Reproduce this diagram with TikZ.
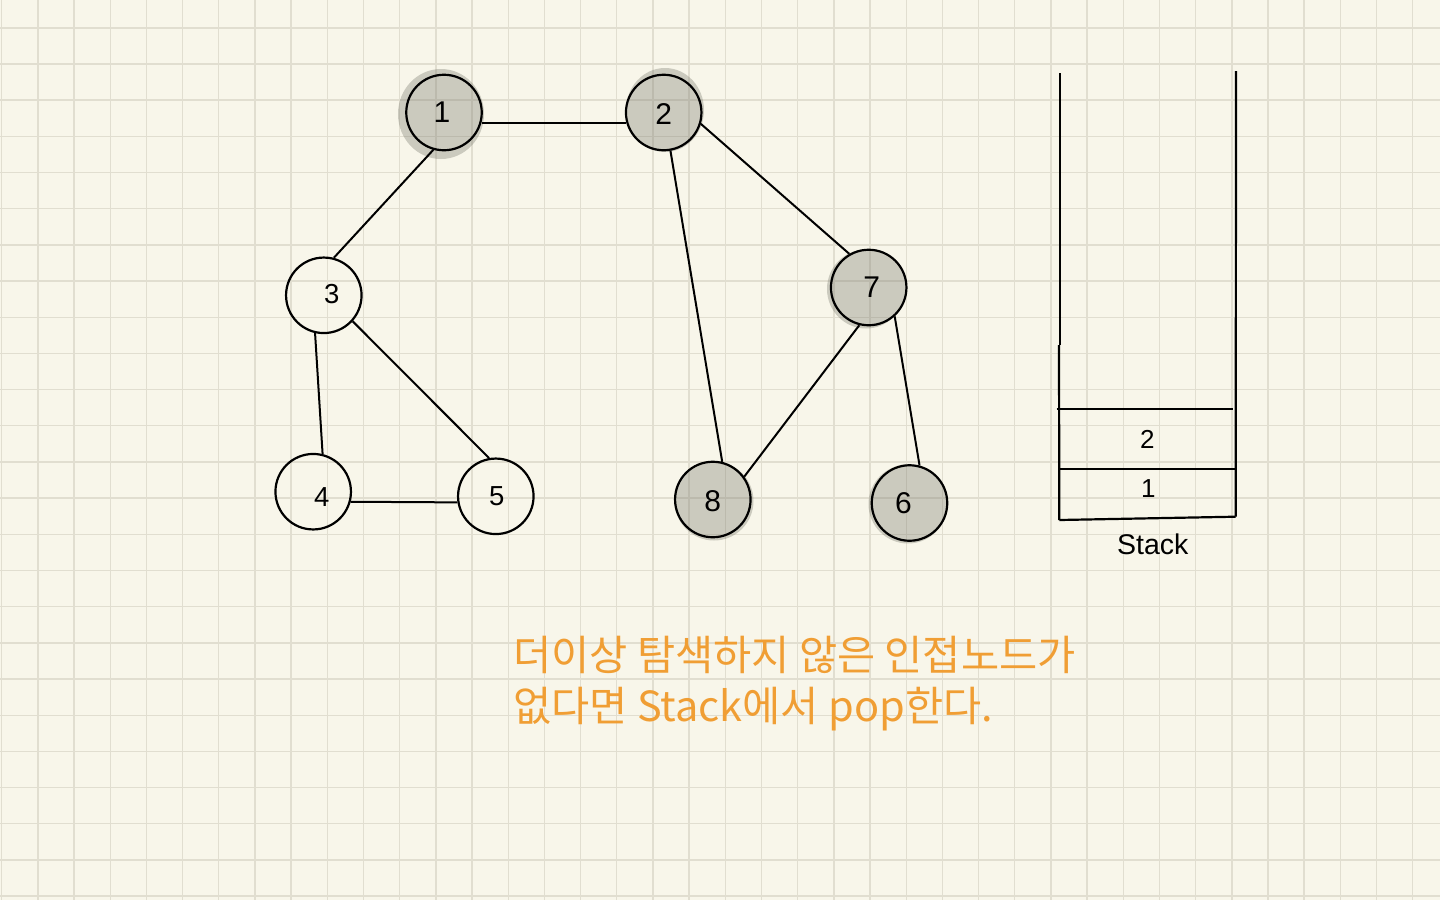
\documentclass[tikz,border=0pt]{standalone}
\usepackage{fontspec}
\setmainfont{Liberation Sans}
\newfontfamily\kr{Noto Sans CJK KR}
\definecolor{bgc}{RGB}{248,246,234}
\definecolor{gridc}{RGB}{225,222,208}
\definecolor{shadec}{RGB}{120,120,108}
\definecolor{orangec}{RGB}{240,158,52}
\pgfdeclarelayer{bglayer}
\pgfdeclarelayer{shadelayer}
\pgfsetlayers{bglayer,shadelayer,main}
\begin{document}
\begin{tikzpicture}[x=1pt,y=-1pt,
  gnode/.style={circle,draw,line width=2.2pt,minimum size=75.5pt,inner sep=0pt},
  edge/.style={line width=2pt},
  stk/.style={line width=2.2pt},
  shadefill/.style={fill=shadec,fill opacity=0.35},
  gridline/.style={gridc,line width=1.4pt},
  big/.style={font=\fontsize{30}{33}\selectfont},
  small/.style={font=\fontsize{27.5}{30}\selectfont},
  every label/.style={inner sep=0pt,big},
  stacktxt/.style={inner sep=0pt,font=\fontsize{26}{30}\selectfont},
  krtext/.style={anchor=base west,inner sep=0pt,text=orangec,font=\kr\fontsize{41.5}{48}\selectfont}]
\useasboundingbox (0,0) rectangle (1440,900);
\begin{pgfonlayer}{bglayer}
  \fill[bgc] (0,0) rectangle (1440,900);
  \foreach \i in {0,...,39} \draw[gridline] ({1.7+36.18*\i},0) -- ({1.7+36.18*\i},900);
  \foreach \j in {0,...,24} \draw[gridline] (0,{27.8+36.18*\j}) -- (1440,{27.8+36.18*\j});
\end{pgfonlayer}

% graph nodes
\node[gnode,label={[xshift=-2pt]center:1}] (n1) at (444,112.5) {};
\node[gnode,label={[yshift=-2pt]center:2}] (n2) at (663.7,112.5) {};
\node[gnode,label={[xshift=8pt,yshift=1pt,small]center:3}] (n3) at (323.8,295.3) {};
\node[gnode,label={[xshift=8.5pt,yshift=-5pt,small]center:4}] (n4) at (313.2,491.7) {};
\node[gnode,label={[xshift=1pt,small]center:5}] (n5) at (495.8,496.3) {};
\node[gnode,label={[xshift=3pt]center:7}] (n7) at (868.7,287.5) {};
\node[gnode,label={[yshift=-2pt]center:8}] (n8) at (712.8,499.5) {};
\node[gnode,label={[xshift=-6pt]center:6}] (n6) at (909.5,503) {};

% shading of visited nodes
\begin{pgfonlayer}{shadelayer}
  \fill[shadefill] (441,114) ellipse [x radius=43pt, y radius=45pt] (n1.center) circle [radius=37.75pt];
  \fill[shadefill] (665,110) ellipse [x radius=39pt, y radius=42pt] (n2.center) circle [radius=37.75pt];
  \fill[shadefill] (866,289) ellipse [x radius=39pt, y radius=39.5pt] (n7.center) circle [radius=37.75pt];
  \fill[shadefill] (714,501) ellipse [x radius=39.5pt, y radius=39.5pt] (n8.center) circle [radius=37.75pt];
  \fill[shadefill] (908,504) ellipse [x radius=39.5pt, y radius=39.5pt] (n6.center) circle [radius=37.75pt];
\end{pgfonlayer}

% edges
\draw[edge] (n1.-15) -- (n2.195);
\draw[edge] (n1.254) -- (n3.75);
\draw[edge] (n3.257) -- (n4.76);
\draw[edge] (n3.-42) -- (n5.100);
\draw[edge] (n4.-15) -- (n5.189);
\draw[edge] (n2.-80) -- (n8.76);
\draw[edge] (n2.-17) -- (n7.120);
\draw[edge] (n7.256) -- (n8.36);
\draw[edge] (n7.-48) -- (n6.75);

% stack
\coordinate (sTL) at (1060,73);
\coordinate (sJ) at (1060,345);
\coordinate (sJ2) at (1059,345);
\coordinate (sBL) at (1059.3,520);
\coordinate (sTR) at (1236,71);
\coordinate (sBR) at (1235.7,516.7);
\draw[stk] (sTL) -- (sJ);
\draw[stk] (sJ2) -- (sBL);
\draw[stk] (sTR) -- (sBR);
\draw[stk] (sBL) -- (sBR);
\draw[stk] (1056.7,408.7) -- (1233.3,408.7);
\draw[stk] (1059,469.3) -- (1236,469.3);
\node[stacktxt] (s2) at (1147.3,439.3) {2};
\node[stacktxt] (s1) at (1148.3,489) {1};
\node[inner sep=0pt,font=\fontsize{28.5}{32}\selectfont] (slabel) at (1152.7,544) {Stack};

% caption
\node[krtext] (t1) at (513,670) {더이상 탐색하지 않은 인접노드가};
\node[krtext] (t2) at (513,721) {없다면 Stack에서 pop한다.};
\end{tikzpicture}
\end{document}
